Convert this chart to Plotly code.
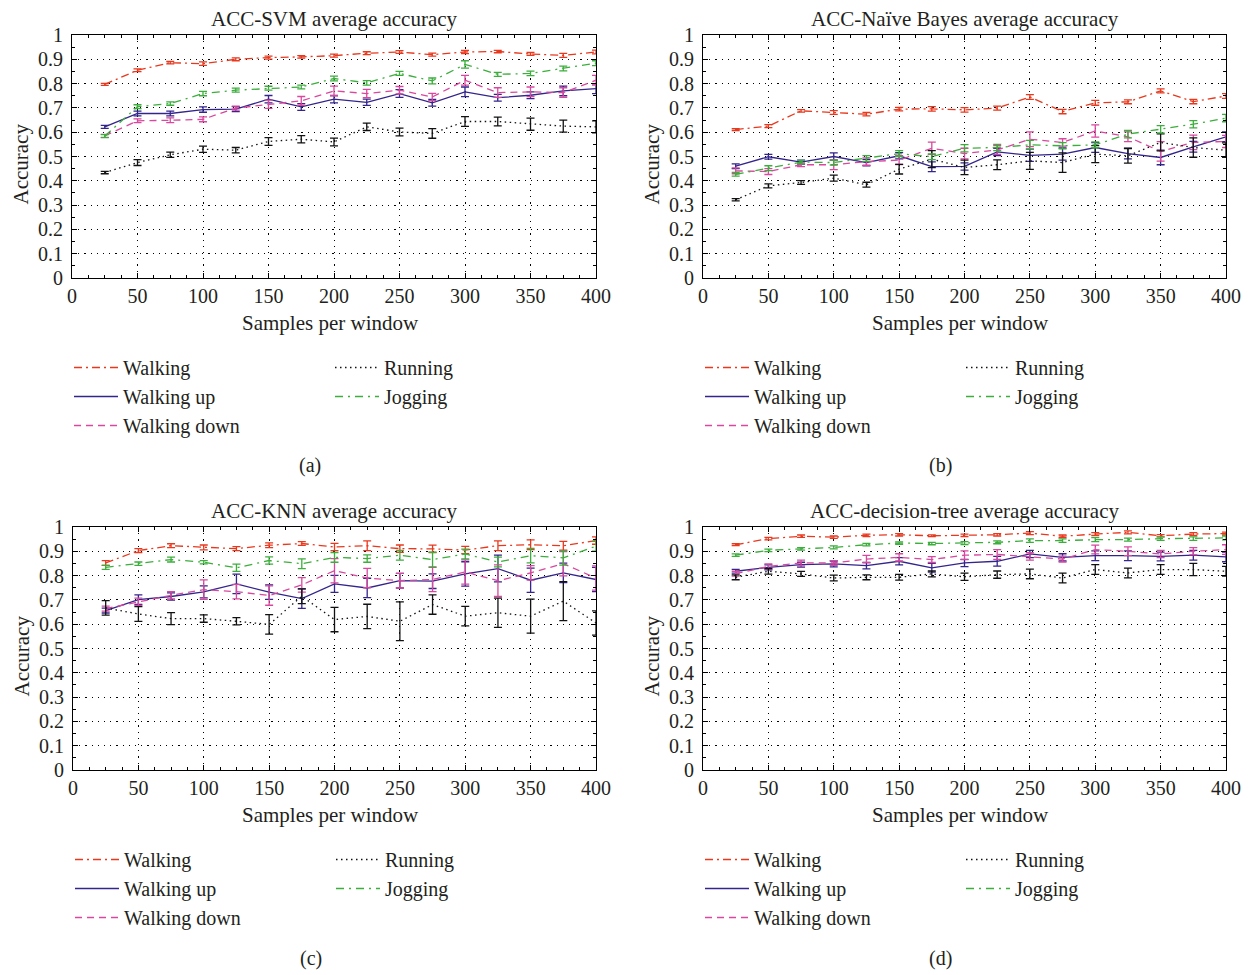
import plotly.graph_objects as go

samples = [25, 50, 75, 100, 125, 150, 175, 200, 225, 250, 275, 300, 325, 350, 375, 400]
activities = ["Walking", "Walking up", "Walking down", "Running", "Jogging"]

panel_titles = ["ACC-SVM average accuracy", "ACC-Naïve Bayes average accuracy",
                "ACC-KNN average accuracy", "ACC-decision-tree average accuracy"]
panel_labels = ["(a)", "(b)", "(c)", "(d)"]
y_ticks = [0, 0.1, 0.2, 0.3, 0.4, 0.5, 0.6, 0.7, 0.8, 0.9, 1]
x_ticks = [0, 50, 100, 150, 200, 250, 300, 350, 400]

# ---------------- SVM ----------------
svm_walking = [0.797, 0.855, 0.886, 0.882, 0.900, 0.907, 0.910, 0.915, 0.925, 0.930, 0.919, 0.930, 0.932, 0.922, 0.916, 0.930]
svm_walking_err = [0.004, 0.006, 0.005, 0.007, 0.006, 0.006, 0.005, 0.006, 0.006, 0.006, 0.006, 0.007, 0.005, 0.006, 0.008, 0.008]
svm_up = [0.622, 0.677, 0.677, 0.693, 0.695, 0.736, 0.704, 0.736, 0.723, 0.759, 0.721, 0.766, 0.742, 0.752, 0.770, 0.779]
svm_up_err = [0.006, 0.010, 0.010, 0.011, 0.010, 0.015, 0.014, 0.015, 0.013, 0.016, 0.014, 0.020, 0.014, 0.014, 0.020, 0.020]
svm_down = [0.585, 0.647, 0.649, 0.653, 0.699, 0.715, 0.729, 0.770, 0.759, 0.773, 0.745, 0.814, 0.763, 0.766, 0.763, 0.814]
svm_down_err = [0.006, 0.008, 0.010, 0.010, 0.008, 0.017, 0.018, 0.020, 0.017, 0.015, 0.015, 0.020, 0.020, 0.020, 0.020, 0.020]
svm_running = [0.434, 0.475, 0.507, 0.530, 0.526, 0.562, 0.571, 0.560, 0.622, 0.601, 0.595, 0.644, 0.644, 0.633, 0.625, 0.622]
svm_running_err = [0.005, 0.012, 0.011, 0.013, 0.011, 0.016, 0.015, 0.016, 0.015, 0.016, 0.020, 0.020, 0.018, 0.025, 0.025, 0.025]
svm_jogging = [0.584, 0.705, 0.718, 0.759, 0.773, 0.781, 0.786, 0.821, 0.803, 0.842, 0.811, 0.879, 0.838, 0.842, 0.862, 0.884]
svm_jogging_err = [0.006, 0.008, 0.007, 0.009, 0.008, 0.008, 0.008, 0.010, 0.009, 0.008, 0.012, 0.015, 0.008, 0.009, 0.010, 0.010]

# ---------------- Naive Bayes ----------------
nb_walking = [0.611, 0.625, 0.688, 0.681, 0.674, 0.695, 0.696, 0.692, 0.699, 0.745, 0.685, 0.721, 0.725, 0.770, 0.726, 0.749]
nb_walking_err = [0.004, 0.006, 0.005, 0.008, 0.007, 0.007, 0.009, 0.009, 0.008, 0.010, 0.009, 0.010, 0.008, 0.008, 0.009, 0.010]
nb_up = [0.460, 0.499, 0.477, 0.500, 0.475, 0.503, 0.458, 0.459, 0.519, 0.505, 0.510, 0.537, 0.512, 0.496, 0.540, 0.581]
nb_up_err = [0.010, 0.010, 0.008, 0.015, 0.013, 0.013, 0.020, 0.015, 0.015, 0.025, 0.025, 0.020, 0.022, 0.030, 0.022, 0.020]
nb_down = [0.441, 0.438, 0.466, 0.466, 0.479, 0.485, 0.534, 0.512, 0.527, 0.571, 0.558, 0.605, 0.581, 0.521, 0.558, 0.562]
nb_down_err = [0.012, 0.012, 0.008, 0.020, 0.015, 0.018, 0.025, 0.022, 0.018, 0.030, 0.015, 0.025, 0.020, 0.040, 0.030, 0.025]
nb_running = [0.322, 0.379, 0.393, 0.411, 0.384, 0.448, 0.489, 0.455, 0.466, 0.482, 0.475, 0.510, 0.503, 0.558, 0.537, 0.526]
nb_running_err = [0.005, 0.008, 0.008, 0.012, 0.010, 0.020, 0.035, 0.030, 0.020, 0.035, 0.040, 0.035, 0.030, 0.035, 0.040, 0.030]
nb_jogging = [0.427, 0.452, 0.477, 0.475, 0.492, 0.512, 0.499, 0.534, 0.537, 0.548, 0.544, 0.548, 0.592, 0.612, 0.633, 0.658]
nb_jogging_err = [0.008, 0.010, 0.007, 0.010, 0.012, 0.012, 0.012, 0.015, 0.013, 0.018, 0.013, 0.012, 0.015, 0.015, 0.015, 0.015]

# ---------------- KNN ----------------
knn_walking = [0.852, 0.903, 0.923, 0.916, 0.911, 0.925, 0.932, 0.918, 0.923, 0.911, 0.910, 0.905, 0.923, 0.927, 0.923, 0.944]
knn_walking_err = [0.010, 0.008, 0.008, 0.010, 0.008, 0.010, 0.008, 0.015, 0.020, 0.015, 0.015, 0.015, 0.020, 0.020, 0.018, 0.015]
knn_up = [0.656, 0.701, 0.714, 0.733, 0.766, 0.732, 0.705, 0.766, 0.749, 0.779, 0.777, 0.807, 0.829, 0.781, 0.811, 0.784]
knn_up_err = [0.010, 0.020, 0.015, 0.025, 0.040, 0.030, 0.040, 0.035, 0.040, 0.030, 0.030, 0.050, 0.055, 0.050, 0.040, 0.050]
knn_down = [0.664, 0.692, 0.719, 0.742, 0.734, 0.718, 0.762, 0.820, 0.790, 0.779, 0.784, 0.815, 0.779, 0.811, 0.849, 0.790]
knn_down_err = [0.010, 0.015, 0.015, 0.040, 0.030, 0.040, 0.030, 0.050, 0.040, 0.030, 0.050, 0.050, 0.065, 0.030, 0.050, 0.050]
knn_running = [0.667, 0.642, 0.623, 0.623, 0.612, 0.599, 0.715, 0.619, 0.632, 0.612, 0.681, 0.633, 0.647, 0.633, 0.695, 0.605]
knn_running_err = [0.030, 0.030, 0.025, 0.015, 0.015, 0.040, 0.030, 0.050, 0.050, 0.080, 0.040, 0.040, 0.060, 0.070, 0.080, 0.050]
knn_jogging = [0.834, 0.849, 0.866, 0.855, 0.832, 0.862, 0.849, 0.875, 0.870, 0.884, 0.866, 0.889, 0.856, 0.882, 0.873, 0.921]
knn_jogging_err = [0.008, 0.007, 0.010, 0.007, 0.015, 0.015, 0.020, 0.020, 0.015, 0.020, 0.030, 0.020, 0.020, 0.030, 0.030, 0.020]

# ---------------- Decision tree ----------------
dt_walking = [0.927, 0.952, 0.962, 0.958, 0.966, 0.968, 0.964, 0.966, 0.968, 0.975, 0.962, 0.971, 0.978, 0.964, 0.971, 0.973]
dt_walking_err = [0.004, 0.005, 0.005, 0.005, 0.005, 0.005, 0.004, 0.005, 0.005, 0.006, 0.006, 0.006, 0.006, 0.005, 0.006, 0.006]
dt_up = [0.818, 0.834, 0.845, 0.848, 0.841, 0.859, 0.832, 0.852, 0.859, 0.889, 0.875, 0.882, 0.882, 0.879, 0.884, 0.877]
dt_up_err = [0.008, 0.010, 0.010, 0.012, 0.013, 0.015, 0.018, 0.015, 0.020, 0.015, 0.015, 0.020, 0.020, 0.018, 0.020, 0.020]
dt_down = [0.808, 0.838, 0.852, 0.852, 0.868, 0.875, 0.866, 0.884, 0.887, 0.879, 0.868, 0.907, 0.900, 0.889, 0.900, 0.907]
dt_down_err = [0.010, 0.010, 0.012, 0.010, 0.015, 0.015, 0.012, 0.018, 0.020, 0.015, 0.012, 0.018, 0.018, 0.015, 0.015, 0.020]
dt_running = [0.793, 0.818, 0.807, 0.790, 0.793, 0.793, 0.807, 0.795, 0.804, 0.807, 0.790, 0.825, 0.811, 0.825, 0.825, 0.818]
dt_running_err = [0.010, 0.012, 0.010, 0.012, 0.010, 0.012, 0.012, 0.015, 0.015, 0.020, 0.020, 0.020, 0.020, 0.020, 0.025, 0.020]
dt_jogging = [0.884, 0.904, 0.910, 0.916, 0.927, 0.934, 0.932, 0.934, 0.937, 0.944, 0.944, 0.948, 0.948, 0.952, 0.952, 0.955]
dt_jogging_err = [0.005, 0.005, 0.005, 0.006, 0.005, 0.005, 0.005, 0.006, 0.006, 0.007, 0.007, 0.008, 0.006, 0.007, 0.007, 0.008]

panels = [
    [(svm_walking, svm_walking_err), (svm_up, svm_up_err), (svm_down, svm_down_err),
     (svm_running, svm_running_err), (svm_jogging, svm_jogging_err)],
    [(nb_walking, nb_walking_err), (nb_up, nb_up_err), (nb_down, nb_down_err),
     (nb_running, nb_running_err), (nb_jogging, nb_jogging_err)],
    [(knn_walking, knn_walking_err), (knn_up, knn_up_err), (knn_down, knn_down_err),
     (knn_running, knn_running_err), (knn_jogging, knn_jogging_err)],
    [(dt_walking, dt_walking_err), (dt_up, dt_up_err), (dt_down, dt_down_err),
     (dt_running, dt_running_err), (dt_jogging, dt_jogging_err)],
]

colors = ["#e8391e", "#33258c", "#d9479e", "#111111", "#3cae3c"]
dashes = ["8px,4px,2px,4px", "solid", "7px,5px", "1.5px,3.5px", "8px,5px,2px,5px"]

FONT = "Liberation Serif"
TXT = "#231f20"
OFF = 8  # page body margin of the written html
W, H = 1253 - OFF, 975 - OFF

def px_x(p):
    return (p - OFF) / W

def px_y(p):
    return 1 - (p - OFF) / H

# plot-area pixel boxes in the screenshot: (left, right, top, bottom)
boxes = [(72, 596, 35, 278), (703, 1226, 35, 278), (73, 596, 527, 770), (703, 1226, 527, 770)]

fig = go.Figure()
annotations = []
layout_axes = {}

for i, (box, series) in enumerate(zip(boxes, panels)):
    l, r, t, b = box
    xa = "x" if i == 0 else f"x{i+1}"
    ya = "y" if i == 0 else f"y{i+1}"
    leg1 = f"legend{2*i+1}" if i > 0 else "legend"
    leg2 = f"legend{2*i+2}"
    for k, (vals, errs) in enumerate(series):
        fig.add_trace(go.Scatter(
            x=samples, y=vals, mode="lines", name=activities[k],
            line=dict(color=colors[k], width=1.3, dash=dashes[k]),
            error_y=dict(type="data", array=errs, visible=True, color=colors[k], thickness=1.3, width=4),
            xaxis=xa, yaxis=ya,
            legend=leg1 if k < 3 else leg2,
        ))
    axis_common = dict(
        showline=True, linecolor="black", linewidth=1.2, mirror="allticks",
        ticks="inside", ticklen=5, tickcolor="black", automargin=False,
        showgrid=True, gridcolor="black", griddash="1.2px,5px", gridwidth=1.2,
        zeroline=False, tickfont=dict(family=FONT, size=20, color=TXT),
    )
    xkey = "xaxis" if i == 0 else f"xaxis{i+1}"
    ykey = "yaxis" if i == 0 else f"yaxis{i+1}"
    layout_axes[xkey] = dict(
        axis_common, domain=[px_x(l), px_x(r)], range=[0, 400], anchor=ya,
        tickvals=x_ticks, ticktext=[str(v) for v in x_ticks],
        minor=dict(ticks="inside", tickvals=[v * 12.5 for v in range(33)], ticklen=3, tickcolor="black", showgrid=False),
    )
    layout_axes[ykey] = dict(
        axis_common, domain=[px_y(b), px_y(t)], range=[0, 1], anchor=xa,
        tickvals=y_ticks, ticktext=["0"] + [f"{v:.1f}" for v in y_ticks[1:-1]] + ["1"],
        ticklabelstandoff=4,
        minor=dict(ticks="inside", tickvals=[v * 0.05 for v in range(21)], ticklen=3, tickcolor="black", showgrid=False),
    )
    cx = (l + r) / 2
    annotations.append(dict(text=panel_titles[i], x=px_x(cx), y=px_y(t - 16), xref="paper", yref="paper",
                            showarrow=False, xanchor="center", yanchor="middle",
                            font=dict(family=FONT, size=21, color=TXT)))
    annotations.append(dict(text="Samples per window", x=px_x(cx - 4), y=px_y(b + 45), xref="paper", yref="paper",
                            showarrow=False, xanchor="center", yanchor="middle",
                            font=dict(family=FONT, size=21, color=TXT)))
    annotations.append(dict(text="Accuracy", x=px_x(l - 52), y=px_y((t + b) / 2 + 8), xref="paper", yref="paper",
                            showarrow=False, xanchor="center", yanchor="middle", textangle=-90,
                            font=dict(family=FONT, size=21, color=TXT)))
    annotations.append(dict(text=panel_labels[i], x=px_x(cx - 24), y=px_y(b + 188), xref="paper", yref="paper",
                            showarrow=False, xanchor="center", yanchor="middle",
                            font=dict(family=FONT, size=20, color=TXT)))
    leg_style = dict(font=dict(family=FONT, size=20, color=TXT), bgcolor="rgba(0,0,0,0)",
                     borderwidth=0, orientation="v", xanchor="left", yanchor="top",
                     itemwidth=44, tracegroupgap=0, itemclick=False, itemdoubleclick=False)
    layout_axes[leg1] = dict(leg_style, x=px_x(l - 3), y=px_y(b + 70))
    layout_axes[leg2] = dict(leg_style, x=px_x(l + 258), y=px_y(b + 70))

fig.update_layout(
    width=W, height=H, margin=dict(l=0, r=0, t=0, b=0, autoexpand=False),
    paper_bgcolor="white", plot_bgcolor="white",
    showlegend=True, annotations=annotations, **layout_axes,
)

fig.write_html("out.html")
